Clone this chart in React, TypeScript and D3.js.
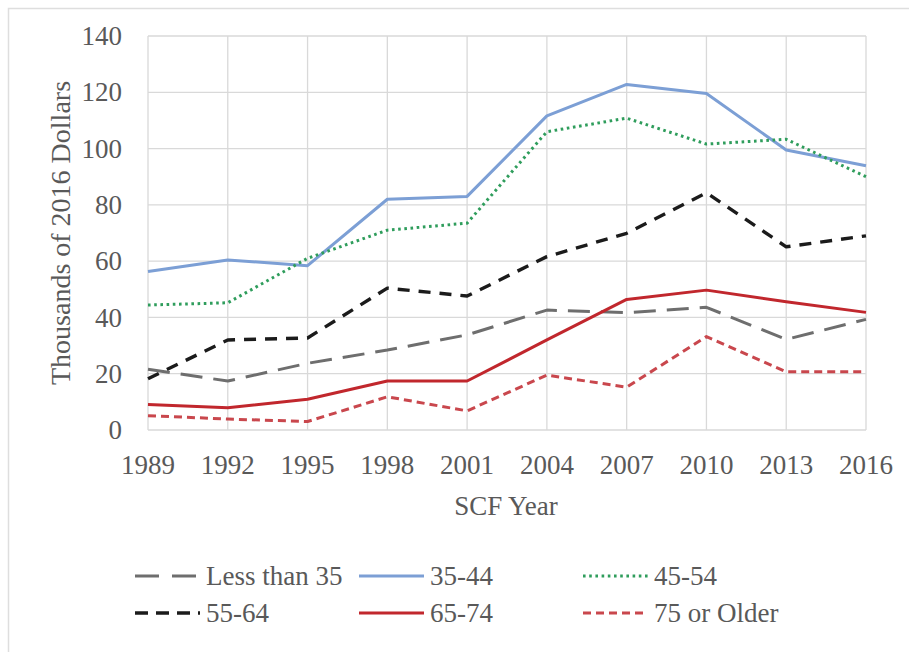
import React from "react";
import * as d3 from "d3";

// Survey of Consumer Finances years
const years = [1989, 1992, 1995, 1998, 2001, 2004, 2007, 2010, 2013, 2016];

// Values in thousands of 2016 dollars, by age group of family head
const lessThan35 = [21.6, 17.4, 23.7, 28.4, 33.8, 42.6, 41.7, 43.6, 32.2, 39.3];
const age35to44 = [56.3, 60.4, 58.4, 82.0, 83.0, 111.6, 122.8, 119.6, 99.5, 93.9];
const age45to54 = [44.4, 45.2, 61.0, 71.0, 73.5, 106.0, 110.8, 101.6, 103.3, 90.0];
const age55to64 = [18.2, 32.0, 32.7, 50.4, 47.6, 61.6, 69.9, 84.3, 65.1, 69.0];
const age65to74 = [9.1, 7.9, 10.9, 17.4, 17.4, 32.0, 46.4, 49.7, 45.6, 41.8];
const age75plus = [5.1, 3.9, 3.0, 11.8, 6.8, 19.5, 15.2, 33.2, 20.7, 20.7];

const yTicks = [0, 20, 40, 60, 80, 100, 120, 140];

const seriesNames = ["Less than 35", "35-44", "45-54", "55-64", "65-74", "75 or Older"];
const seriesValues = [lessThan35, age35to44, age45to54, age55to64, age65to74, age75plus];

const styles = [
  { color: "#6e6e6e", dash: "22,11", legendDash: "24,13", width: 3 },
  { color: "#7c9fd5", dash: null, legendDash: null, width: 3 },
  { color: "#2f9d5c", dash: "2.6,3.6", legendDash: "2.6,3.6", width: 3 },
  { color: "#1b1b1b", dash: "12,9", legendDash: "13,8", width: 3.4 },
  { color: "#c1272d", dash: null, legendDash: null, width: 3 },
  { color: "#c9474d", dash: "8,5", legendDash: "8,5", width: 3 },
];

// draw order so the lighter lines sit beneath the darker ones
const drawOrder = [0, 1, 2, 5, 4, 3];

const W = 909;
const H = 652;
const FONT = '"Liberation Serif", "Times New Roman", Times, serif';
const TEXT = "#595959";

export default function App() {
  const x = d3.scaleLinear().domain([1989, 2016]).range([148, 866]);
  const y = d3.scaleLinear().domain([0, 140]).range([430, 36]);

  const line = d3
    .line<number>()
    .x((_, i) => x(years[i]))
    .y((d) => y(d));

  const legendCols = [135, 359, 583];
  const legendRows = [576, 613];

  return (
    <svg
      width={W}
      height={H}
      style={{ position: "absolute", left: 0, top: 0, background: "#ffffff" }}
    >
      <rect x={0} y={0} width={W} height={H} fill="#ffffff" />
      {/* outer frame */}
      <rect x={8.5} y={8.5} width={W + 20} height={H + 20} fill="none" stroke="#dedede" strokeWidth={1.5} />

      {/* grid */}
      <g stroke="#d9d9d9" strokeWidth={1.3}>
        {yTicks.map((t) => (
          <line key={"h" + t} x1={x(1989)} x2={x(2016)} y1={y(t)} y2={y(t)} />
        ))}
        {years.map((yr) => (
          <line key={"v" + yr} x1={x(yr)} x2={x(yr)} y1={y(0)} y2={y(140)} />
        ))}
      </g>

      {/* y tick labels */}
      {yTicks.map((t) => (
        <text
          key={"yt" + t}
          x={122}
          y={y(t)}
          dy="0.34em"
          fill={TEXT}
          fontSize={27}
          fontFamily={FONT}
          textAnchor="end"
        >
          {t}
        </text>
      ))}

      {/* x tick labels */}
      {years.map((yr) => (
        <text
          key={"xt" + yr}
          x={x(yr)}
          y={474}
          fill={TEXT}
          fontSize={27}
          fontFamily={FONT}
          textAnchor="middle"
        >
          {yr}
        </text>
      ))}

      <text x={506} y={515} fill={TEXT} fontSize={27} fontFamily={FONT} textAnchor="middle">
        SCF Year
      </text>
      <text
        transform={`translate(70, ${(y(0) + y(140)) / 2}) rotate(-90)`}
        fill={TEXT}
        fontSize={28}
        fontFamily={FONT}
        textAnchor="middle"
      >
        Thousands of 2016 Dollars
      </text>

      {/* series */}
      <g fill="none" strokeLinejoin="round">
        {drawOrder.map((i) => (
          <path
            key={"s" + i}
            d={line(seriesValues[i]) || ""}
            stroke={styles[i].color}
            strokeWidth={styles[i].width}
            strokeDasharray={styles[i].dash || undefined}
          />
        ))}
      </g>

      {/* legend */}
      <g>
        {seriesNames.map((name, i) => {
          const lx = legendCols[i % 3];
          const ly = legendRows[Math.floor(i / 3)];
          return (
            <g key={"lg" + i}>
              <line
                x1={lx}
                x2={lx + 65}
                y1={ly}
                y2={ly}
                stroke={styles[i].color}
                strokeWidth={styles[i].width}
                strokeDasharray={styles[i].legendDash || undefined}
              />
              <text
                x={lx + 71}
                y={ly}
                dy="0.34em"
                fill={TEXT}
                fontSize={27}
                fontFamily={FONT}
              >
                {name}
              </text>
            </g>
          );
        })}
      </g>
    </svg>
  );
}
